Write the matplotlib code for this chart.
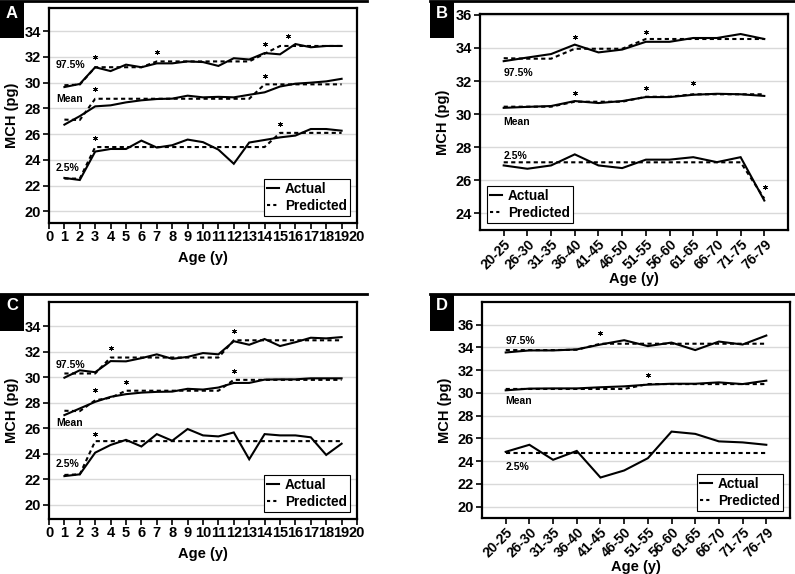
import numpy as np
import matplotlib.pyplot as plt
from matplotlib.lines import Line2D
from matplotlib.patches import Rectangle

plt.rcParams['font.family'] = ['Liberation Sans', 'DejaVu Sans']

# ---- data ----
ages_child = list(range(1, 20))
age_groups = ['20-25', '26-30', '31-35', '36-40', '41-45', '46-50',
              '51-55', '56-60', '61-65', '66-70', '71-75', '76-79']

# Panel A
a_hi_act = [29.66, 29.9, 31.2, 30.9, 31.4, 31.2, 31.5, 31.5, 31.65, 31.6, 31.3,
            31.9, 31.8, 32.3, 32.2, 33.0, 32.75, 32.85, 32.85]
a_hi_pred = [29.8, 29.85, 31.2, 31.2, 31.2, 31.2, 31.65, 31.65, 31.65, 31.65, 31.65,
             31.65, 31.65, 32.25, 32.85, 32.85, 32.85, 32.85, 32.85]
a_mean_act = [26.74, 27.4, 28.16, 28.24, 28.47, 28.63, 28.73, 28.76, 28.99, 28.86, 28.9,
              28.86, 29.06, 29.25, 29.7, 29.92, 30.0, 30.1, 30.3]
a_mean_pred = [27.13, 27.1, 28.75, 28.75, 28.75, 28.75, 28.75, 28.75, 28.75, 28.75, 28.75,
               28.75, 28.75, 29.87, 29.87, 29.87, 29.87, 29.87, 29.87]
a_lo_act = [22.6, 22.44, 24.65, 24.85, 24.85, 25.5, 24.96, 25.14, 25.58, 25.38, 24.8,
            23.7, 25.35, 25.55, 25.75, 25.89, 26.4, 26.4, 26.27]
a_lo_pred = [22.55, 22.55, 25.0, 25.0, 25.0, 25.0, 25.0, 25.0, 25.0, 25.0, 25.0,
             25.0, 25.0, 25.0, 26.1, 26.1, 26.1, 26.1, 26.1]
a_star_x = [3, 7, 14, 15.5, 3, 14, 3, 15]
a_star_y = [31.96, 32.42, 33.0, 33.66, 29.5, 30.54, 25.7, 26.8]

# Panel B
b_hi_act = [33.2, 33.42, 33.63, 34.2, 33.73, 33.9, 34.37, 34.37, 34.6, 34.6, 34.84, 34.54]
b_hi_pred = [33.38, 33.35, 33.35, 33.95, 33.95, 33.95, 34.54, 34.54, 34.54, 34.54, 34.54, 34.54]
b_mean_act = [30.38, 30.44, 30.49, 30.79, 30.67, 30.79, 31.03, 31.03, 31.17, 31.23, 31.2, 31.1]
b_mean_pred = [30.45, 30.45, 30.45, 30.75, 30.75, 30.75, 31.05, 31.05, 31.2, 31.2, 31.2, 31.2]
b_lo_act = [26.9, 26.7, 26.9, 27.57, 26.9, 26.74, 27.25, 27.25, 27.4, 27.1, 27.4, 24.78]
b_lo_pred = [27.09, 27.09, 27.09, 27.09, 27.09, 27.09, 27.09, 27.09, 27.09, 27.09, 27.09, 24.9]
b_star_x = [3, 6, 3, 6, 8, 11.05]
b_star_y = [34.68, 34.95, 31.29, 31.6, 31.86, 25.57]

# Panel C
c_hi_act = [29.97, 30.55, 30.4, 31.27, 31.25, 31.5, 31.8, 31.45, 31.6, 31.9, 31.8,
            32.83, 32.55, 33.0, 32.45, 32.75, 33.1, 33.05, 33.15]
c_hi_pred = [30.3, 30.3, 30.3, 31.55, 31.55, 31.55, 31.55, 31.55, 31.55, 31.55, 31.55,
             32.9, 32.9, 32.9, 32.9, 32.9, 32.9, 32.9, 32.9]
c_mean_act = [27.04, 27.56, 28.08, 28.47, 28.68, 28.8, 28.86, 28.88, 29.1, 29.04, 29.2,
              29.56, 29.56, 29.82, 29.84, 29.84, 29.92, 29.92, 29.92]
c_mean_pred = [27.38, 27.35, 28.2, 28.4, 28.95, 28.95, 28.95, 28.95, 28.95, 28.95, 28.95,
               29.8, 29.8, 29.8, 29.8, 29.8, 29.8, 29.8, 29.8]
c_lo_act = [22.26, 22.4, 24.1, 24.7, 25.1, 24.58, 25.55, 25.03, 25.95, 25.45, 25.37,
            25.68, 23.58, 25.55, 25.45, 25.45, 25.3, 23.92, 24.8]
c_lo_pred = [22.35, 22.4, 25.0, 25.0, 25.0, 25.0, 25.0, 25.0, 25.0, 25.0, 25.0,
             25.0, 25.0, 25.0, 25.0, 25.0, 25.0, 25.0, 25.0]
c_star_x = [4, 12, 3, 5, 12, 3]
c_star_y = [32.29, 33.66, 28.99, 29.64, 30.52, 25.55]

# Panel D
d_hi_act = [33.56, 33.74, 33.74, 33.83, 34.26, 34.64, 34.12, 34.43, 33.77, 34.52, 34.26, 35.05]
d_hi_pred = [33.77, 33.77, 33.77, 33.8, 34.33, 34.33, 34.33, 34.33, 34.33, 34.33, 34.33, 34.33]
d_mean_act = [30.23, 30.38, 30.4, 30.4, 30.5, 30.58, 30.73, 30.81, 30.81, 30.93, 30.78, 31.08]
d_mean_pred = [30.35, 30.35, 30.35, 30.35, 30.35, 30.35, 30.78, 30.78, 30.78, 30.78, 30.78, 30.78]
d_lo_act = [24.82, 25.44, 24.12, 24.9, 22.56, 23.18, 24.26, 26.6, 26.4, 25.74, 25.65, 25.44]
d_lo_pred = [24.75] * 12
d_star_x = [4, 6]
d_star_y = [35.24, 31.6]

W, H = 795, 574
fig = plt.figure(figsize=(W / 100, H / 100), dpi=100)


def px_axes(x0, y0, x1, y1):
    return fig.add_axes([x0 / W, 1 - y1 / H, (x1 - x0) / W, (y1 - y0) / H])


def panel_header(x0, x1, y, letter):
    fig.add_artist(Line2D([x0 / W, x1 / W], [1 - y / H, 1 - y / H],
                          transform=fig.transFigure, color='black', lw=2))
    fig.add_artist(Rectangle((x0 / W, 1 - (y + 37) / H), 24 / W, 37 / H,
                             transform=fig.transFigure, facecolor='black',
                             edgecolor='none'))
    fig.text((x0 + 12) / W, 1 - (y + 12) / H, letter, color='white',
             fontsize=12, fontweight='bold', ha='center', va='center')


def draw(ax, x, series, stars, labels, ylim, yticks, legend_loc):
    for act, pred in series:
        ax.plot(x, act, color='black', lw=1.5, solid_joinstyle='miter')
        ax.plot(x, pred, color='black', lw=1.5, linestyle=(0, (2.0, 1.6)))
    ax.plot(stars[0], stars[1], linestyle='none', marker=(6, 2, 0),
            color='black', markersize=3.4, markeredgewidth=0.6)
    for lx, ly, txt in labels:
        ax.text(lx, ly, txt, fontsize=7.5, fontweight='bold', va='center', ha='left')
    ax.set_ylim(*ylim)
    ax.set_yticks(yticks)
    ax.grid(axis='y', color='#d9d9d9', lw=1)
    ax.set_axisbelow(True)
    for s in ax.spines.values():
        s.set_linewidth(1.6)
    ax.tick_params(direction='out', length=4, width=1.2, labelsize=10.5, pad=2)
    for t in ax.get_xticklabels() + ax.get_yticklabels():
        t.set_fontweight('bold')
    ax.set_ylabel('MCH (pg)', fontsize=10.5, fontweight='bold', labelpad=4)
    ax.set_xlabel('Age (y)', fontsize=10.5, fontweight='bold', labelpad=5)
    handles = [Line2D([], [], color='black', lw=1.5),
               Line2D([], [], color='black', lw=1.5, linestyle=(0, (1.5, 1.5)))]
    leg = ax.legend(handles, ['Actual', 'Predicted'], loc=legend_loc,
                    prop={'size': 9.8, 'weight': 'bold'}, handlelength=0.9,
                    handletextpad=0.4, borderpad=0.25, labelspacing=0.2,
                    fancybox=False, edgecolor='black', framealpha=1,
                    borderaxespad=0.5)
    leg.get_frame().set_linewidth(0.8)


def category_ticks(ax):
    ax.set_xlim(-1, 12)
    ax.set_xticks(xb)
    ax.set_xticklabels(age_groups, rotation=45, ha='right', rotation_mode='anchor',
                       fontweight='bold', fontsize=10)
    ax.tick_params(axis='x', pad=1)
    ax.xaxis.labelpad = 0


def age_ticks(ax):
    ax.set_xlim(0, 20)
    ax.set_xticks(range(0, 21))
    for t in ax.get_xticklabels():
        t.set_fontweight('bold')
    ax.tick_params(axis='x', pad=1)


# Panel A
axA = px_axes(49, 8, 357, 223)
draw(axA, ages_child,
     [(a_hi_act, a_hi_pred), (a_mean_act, a_mean_pred), (a_lo_act, a_lo_pred)],
     (a_star_x, a_star_y),
     [(0.45, 31.4, '97.5%'), (0.45, 28.7, 'Mean'), (0.45, 23.4, '2.5%')],
     (19.1, 35.8), [20, 22, 24, 26, 28, 30, 32, 34], 'lower right')
age_ticks(axA)

# Panel B
xb = np.arange(len(age_groups))
axB = px_axes(480, 14, 788, 230)
draw(axB, xb,
     [(b_hi_act, b_hi_pred), (b_mean_act, b_mean_pred), (b_lo_act, b_lo_pred)],
     (b_star_x, b_star_y),
     [(0, 32.5, '97.5%'), (0, 29.5, 'Mean'), (0, 27.5, '2.5%')],
     (23.0, 36.05), [24, 26, 28, 30, 32, 34, 36], 'lower left')
category_ticks(axB)

# Panel C
axC = px_axes(49, 302, 357, 519)
draw(axC, ages_child,
     [(c_hi_act, c_hi_pred), (c_mean_act, c_mean_pred), (c_lo_act, c_lo_pred)],
     (c_star_x, c_star_y),
     [(0.45, 31.0, '97.5%'), (0.45, 26.4, 'Mean'), (0.45, 23.2, '2.5%')],
     (18.9, 35.9), [20, 22, 24, 26, 28, 30, 32, 34], 'lower right')
age_ticks(axC)

# Panel D
axD = px_axes(482, 302, 790, 518)
draw(axD, xb,
     [(d_hi_act, d_hi_pred), (d_mean_act, d_mean_pred), (d_lo_act, d_lo_pred)],
     (d_star_x, d_star_y),
     [(0, 34.6, '97.5%'), (0, 29.3, 'Mean'), (0, 23.47, '2.5%')],
     (19.0, 38.0), [20, 22, 24, 26, 28, 30, 32, 34, 36], 'lower right')
category_ticks(axD)

panel_header(0, 367, 1, 'A')
panel_header(430, 795, 1, 'B')
panel_header(0, 367, 294, 'C')
panel_header(430, 795, 294, 'D')

fig.savefig('out.png', dpi=100)
